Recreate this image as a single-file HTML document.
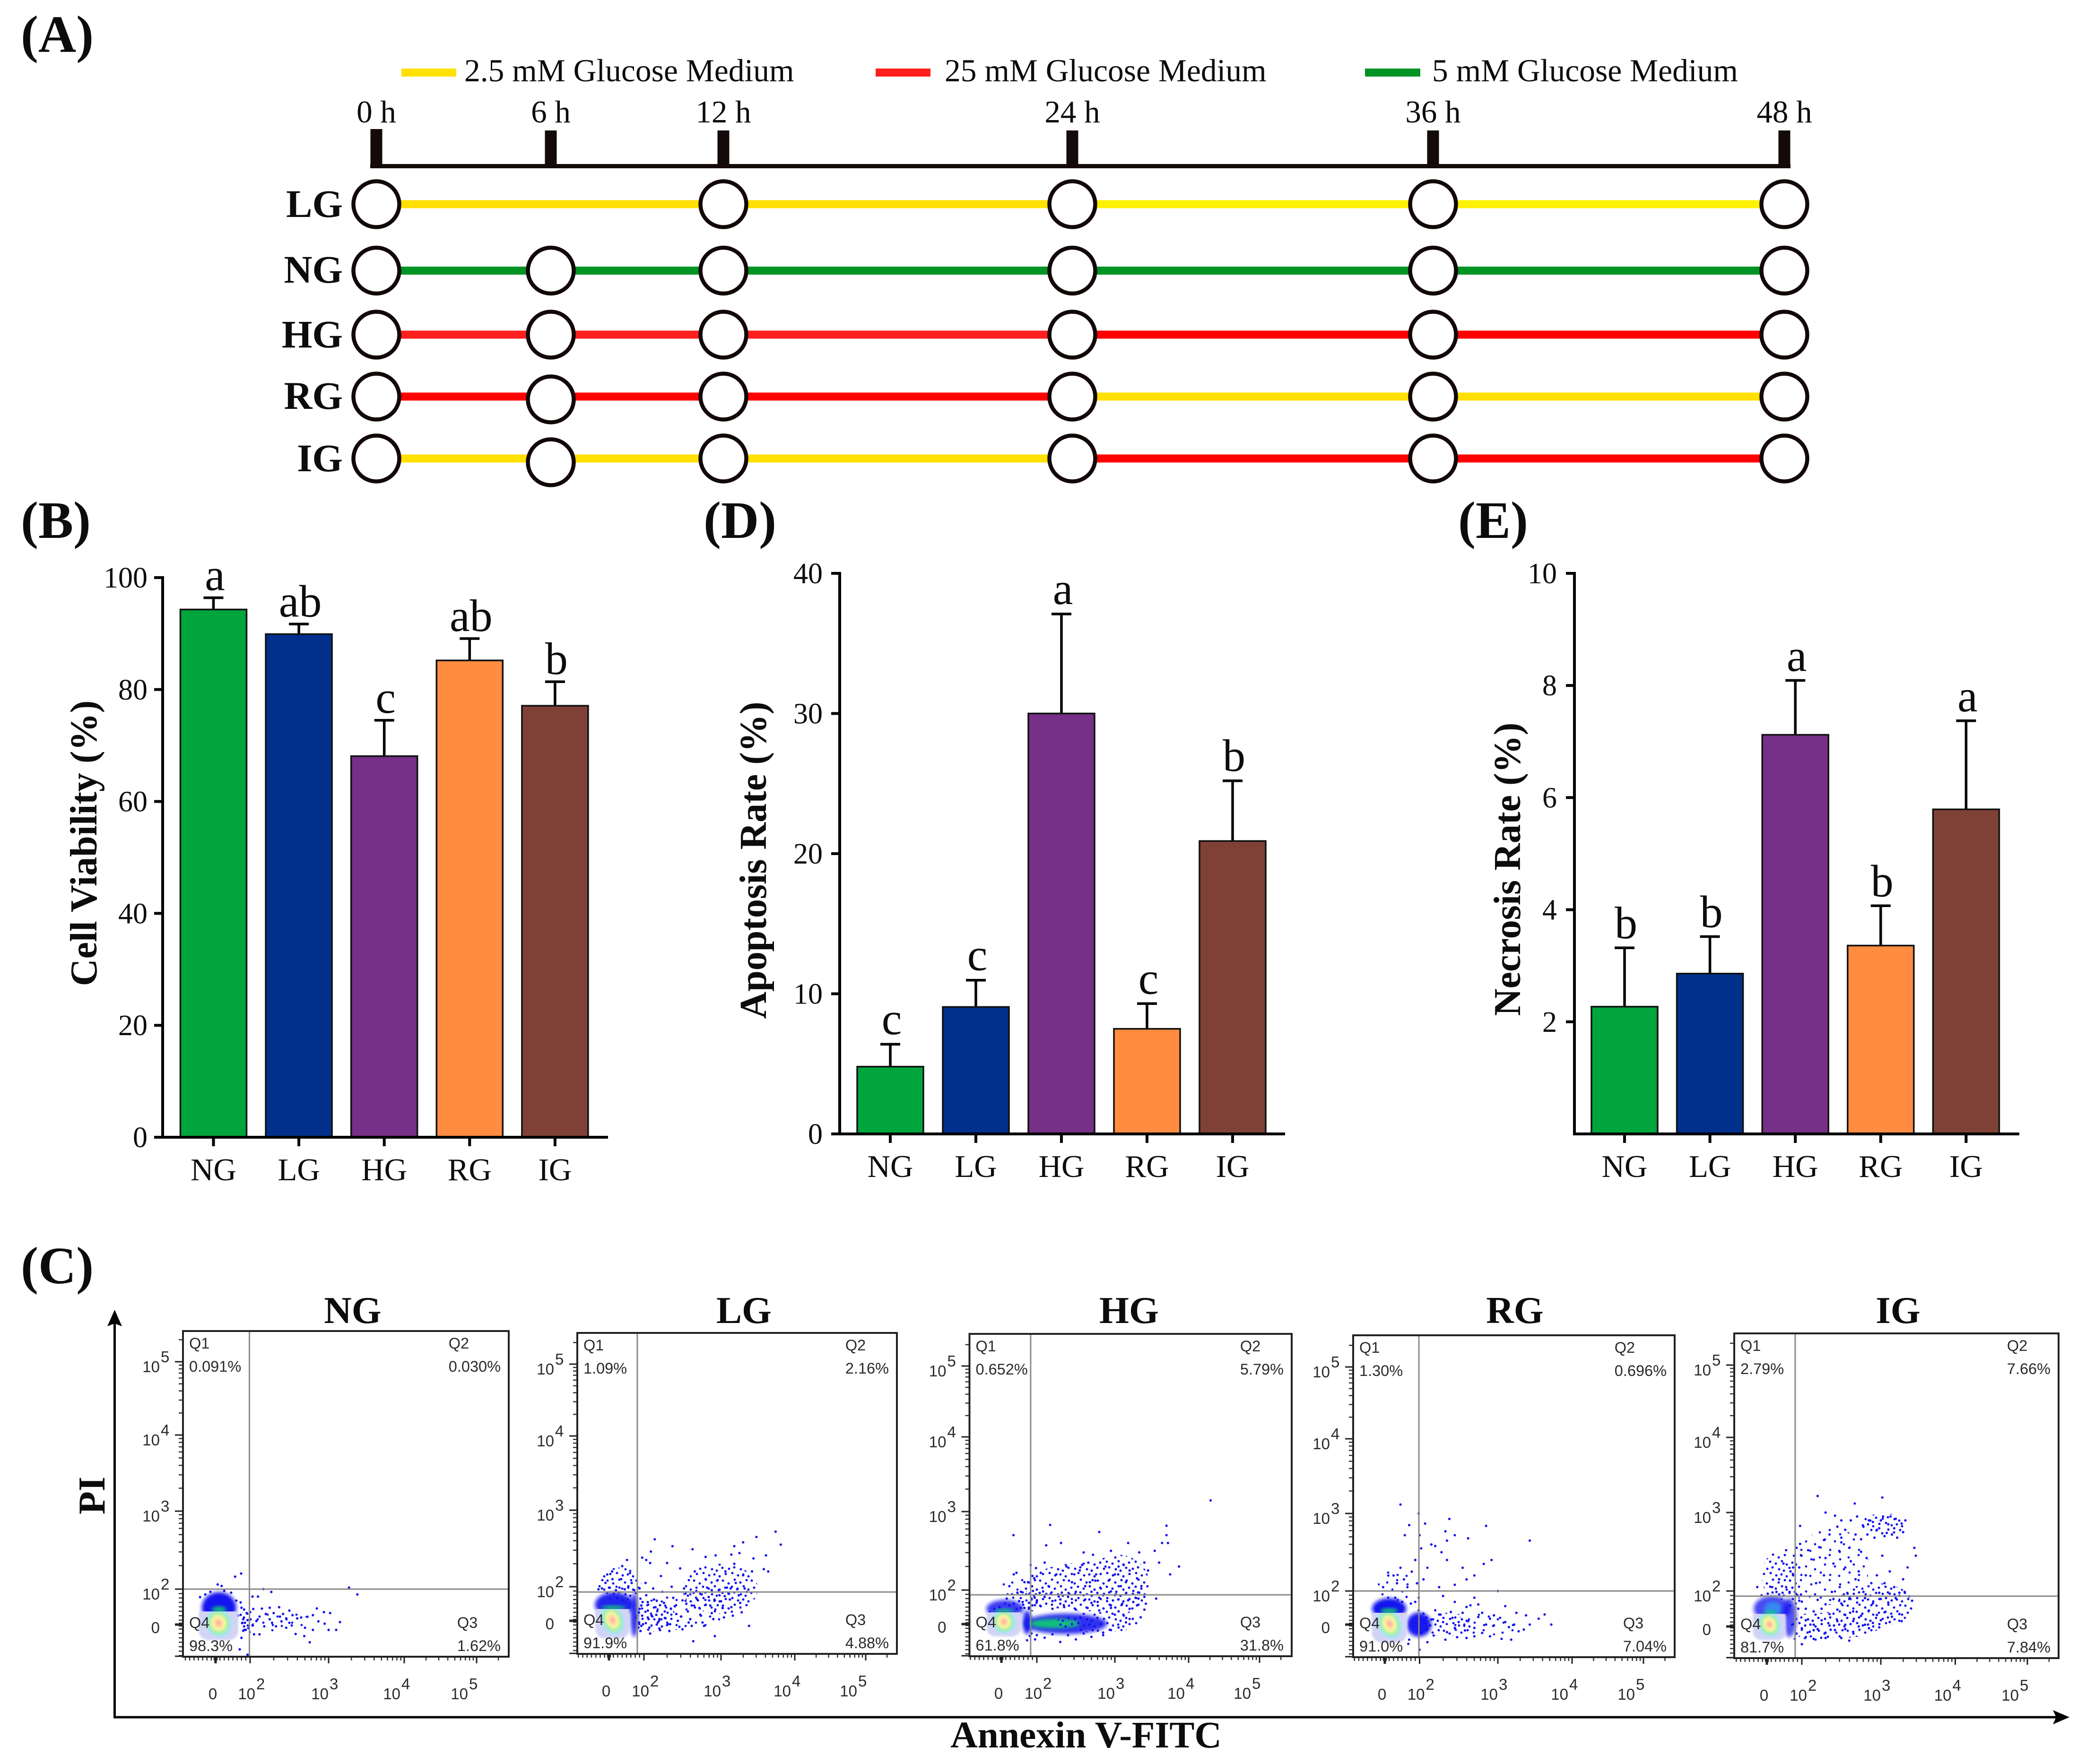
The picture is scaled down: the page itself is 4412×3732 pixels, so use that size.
<!DOCTYPE html>
<html lang="en">
<head>
<meta charset="utf-8">
<title>Glucose treatment timeline, viability, apoptosis, necrosis and flow cytometry</title>
<style>
html,body{margin:0;padding:0;background:#fff}
svg{display:block}
.serif{font-family:"Liberation Serif",serif;fill:#0c0c0c}
.bold{font-weight:700}
.sans{font-family:"Liberation Sans",sans-serif;fill:#2a2a2a}
</style>
</head>
<body>
<svg id="figure" xmlns="http://www.w3.org/2000/svg" width="4412" height="3732" viewBox="0 0 4412 3732">
  <defs>
    <radialGradient id="coreGrad">
      <stop offset="0" stop-color="#ffa6a6"/>
      <stop offset=".22" stop-color="#ffd8a0"/>
      <stop offset=".42" stop-color="#f5f5a0"/>
      <stop offset=".62" stop-color="#aef0a8"/>
      <stop offset=".82" stop-color="#a0e6f0"/>
      <stop offset="1" stop-color="#cfd6f6" stop-opacity=".2"/>
    </radialGradient>
    <filter id="soft" x="-30%" y="-30%" width="160%" height="160%"><feGaussianBlur stdDeviation="4"/></filter>
    <filter id="softer" x="-30%" y="-30%" width="160%" height="160%"><feGaussianBlur stdDeviation="2"/></filter>
    <pattern id="speckleSparse" patternUnits="userSpaceOnUse" width="61" height="53">
      <g fill="#1414ee">
        <circle cx="6" cy="9" r="2.4"/><circle cx="27" cy="4" r="2.4"/><circle cx="49" cy="13" r="2.4"/>
        <circle cx="17" cy="24" r="2.4"/><circle cx="38" cy="28" r="2.4"/><circle cx="57" cy="34" r="2.4"/>
        <circle cx="8" cy="41" r="2.4"/><circle cx="28" cy="46" r="2.4"/><circle cx="47" cy="48" r="2.4"/>
      </g>
    </pattern>
    <pattern id="speckleDense" patternUnits="userSpaceOnUse" width="61" height="53">
      <g fill="#1010ee">
        <circle cx="4" cy="5" r="2.5"/><circle cx="16" cy="11" r="2.5"/><circle cx="29" cy="3" r="2.5"/><circle cx="41" cy="9" r="2.5"/><circle cx="54" cy="4" r="2.5"/>
        <circle cx="9" cy="20" r="2.5"/><circle cx="23" cy="18" r="2.5"/><circle cx="35" cy="22" r="2.5"/><circle cx="48" cy="17" r="2.5"/><circle cx="58" cy="24" r="2.5"/>
        <circle cx="3" cy="31" r="2.5"/><circle cx="17" cy="33" r="2.5"/><circle cx="28" cy="30" r="2.5"/><circle cx="42" cy="34" r="2.5"/><circle cx="52" cy="37" r="2.5"/>
        <circle cx="10" cy="44" r="2.5"/><circle cx="24" cy="42" r="2.5"/><circle cx="36" cy="47" r="2.5"/><circle cx="47" cy="45" r="2.5"/><circle cx="58" cy="49" r="2.5"/>
      </g>
    </pattern>
  </defs>
  <rect width="4412" height="3732" fill="#fff"/>

  <text class="serif bold" x="44" y="110" font-size="111">(A)</text>
  <text class="serif bold" x="44" y="1138" font-size="111">(B)</text>
  <text class="serif bold" x="1488" y="1138" font-size="111">(D)</text>
  <text class="serif bold" x="3084" y="1138" font-size="111">(E)</text>
  <text class="serif bold" x="44" y="2715" font-size="111">(C)</text>

  <g>
    <rect x="849" y="145" width="116" height="17" fill="#ffe000"/>
    <text class="serif" x="982" y="172" font-size="67.5">2.5 mM Glucose Medium</text>
    <rect x="1852" y="145" width="116" height="17" fill="#ff1f1f"/>
    <text class="serif" x="1998" y="172" font-size="67.5">25 mM Glucose Medium</text>
    <rect x="2887" y="145" width="117" height="17" fill="#009425"/>
    <text class="serif" x="3029" y="172" font-size="67.5">5 mM Glucose Medium</text>
  </g>
  <g id="timeline"></g>

  <g id="chartB"></g>
  <g id="chartD"></g>
  <g id="chartE"></g>
  <text class="serif bold" transform="translate(204,1784) rotate(-90)" text-anchor="middle" font-size="80">Cell Viability (%)</text>
  <text class="serif bold" transform="translate(1620,1820) rotate(-90)" text-anchor="middle" font-size="80">Apoptosis Rate (%)</text>
  <text class="serif bold" transform="translate(3215,1839) rotate(-90)" text-anchor="middle" font-size="80">Necrosis Rate (%)</text>

  <g id="facs"></g>

  <g>
    <line x1="242.5" y1="2795" x2="242.5" y2="3635" stroke="#000" stroke-width="5"/>
    <polygon points="242.5,2771 227,2806 242.5,2800 258,2806" fill="#000"/>
    <line x1="240" y1="3633" x2="4355" y2="3633" stroke="#000" stroke-width="5"/>
    <polygon points="4377,3633 4342,3618 4349,3633 4342,3648" fill="#000"/>
    <text class="serif bold" transform="translate(221,3164) rotate(-90)" text-anchor="middle" font-size="80">PI</text>
    <text class="serif bold" x="2297" y="3697" text-anchor="middle" font-size="79.5">Annexin V-FITC</text>
  </g>
</svg>

<script>
/* ---------- bar chart data ---------- */
const categories = ['NG','LG','HG','RG','IG'];
const viabilityValues = [94.3,89.9,68.1,85.2,77.1];
const viabilityErrors = [2.1,1.8,6.4,3.9,4.3];
const viabilityLetters = ['a','ab','c','ab','b'];
const viabilityTicks = [0,20,40,60,80,100];
const apoptosisValues = [4.8,9.06,30,7.5,20.9];
const apoptosisErrors = [1.6,1.91,7.1,1.8,4.3];
const apoptosisLetters = ['c','c','a','c','b'];
const apoptosisTicks = [0,10,20,30,40];
const necrosisValues = [2.27,2.86,7.12,3.36,5.79];
const necrosisErrors = [1.05,0.66,0.97,0.71,1.58];
const necrosisLetters = ['b','b','a','b','a'];
const necrosisTicks = [2,4,6,8,10];

/* ---------- timeline data ---------- */
const timeLabels = ['0 h','6 h','12 h','24 h','36 h','48 h'];
const rowNames = ['LG','NG','HG','RG','IG'];
const rowSampled = [[0,2,3,4,5],[0,1,2,3,4,5],[0,1,2,3,4,5],[0,1,2,3,4,5],[0,1,2,3,4,5]];
const rowMediumEarly = ['#ffe000','#009425','#ff1f1f','#ff0000','#ffe000'];
const rowMediumLate = ['#fff200','#009425','#ff0000','#ffe000','#ff0000'];

/* ---------- flow cytometry data (axis units: 0, 2=10^2, 3=10^3 ...) ---------- */
const facsNames = ['NG','LG','HG','RG','IG'];
const exponentLabels = ['2','3','4','5'];
const q1Values = ['0.091%','1.09%','0.652%','1.30%','2.79%'];
const q2Values = ['0.030%','2.16%','5.79%','0.696%','7.66%'];
const q3Values = ['1.62%','4.88%','31.8%','7.04%','7.84%'];
const q4Values = ['98.3%','91.9%','61.8%','91.0%','81.7%'];
const gateX = [1.96,1.62,1.65,1.96,1.62];
const gateY = [2.0,1.69,1.72,2.0,1.71];
const coreX = [.17,.2,.14,.27,.15];
const coreY = [.09,.05,.15,.04,.12];
const coreSpanX = [1.15,.98,.98,1.02,.95];
const coreSpanY = [.98,1.1,.88,1.12,.9];
const coreCut = [.74,.69,.69,.7,.71];

/* density: centre x, centre y, span x, span y, strength, tone (0 blue, 1 green, 2 cyan, 3 sparse events, 4 dense events) */
const densityNG = [[.2,.95,1.0,.88,.97,0],[.2,.85,.42,.17,.9,1],[1.75,.2,.3,.75,1,4],[2.35,.2,.4,.6,1,3]];
const densityLG = [[.3,.95,1.1,.72,.9,0],[.25,.78,.7,.12,.9,1],[.6,1.7,1.25,.55,1,4],[1.45,.35,.22,1.3,.85,0],[1.95,.3,.45,.95,1,4],[2.5,.55,.55,1.1,1,3],[3.0,1.35,.5,.95,1,4]];
const densityHG = [[.2,.9,1.05,.52,.8,0],[.15,.78,.55,.11,.95,1],[1.45,.1,.25,.7,.9,0],[2.1,.02,.8,.6,.85,0],[2.05,.03,.5,.28,.9,1],[2.8,.1,.55,.6,1,4],[2.4,1.55,1.0,.8,1,4],[3.05,1.5,.42,.95,1,4],[1.5,1.4,.65,.65,1,4],[.7,1.75,.75,.45,1,3]];
const densityRG = [[.25,.95,.98,.62,.97,0],[.25,.82,.5,.15,.95,1],[1.7,0,.45,.72,.95,0],[2.3,0,.4,.7,1,4],[2.85,0,.45,.65,1,3],[.6,1.8,1,.5,1,3]];
const densityIG = [[.3,1.0,1.05,.72,.75,0],[.35,1.0,.5,.4,.55,2],[.2,.78,.4,.1,.95,1],[1.3,.5,.4,1.1,.7,0],[.7,2,1,.5,1,4],[1.95,0,.5,.8,1,4],[2.45,.1,.55,.75,1,4],[2.95,1.05,.5,1.05,1,4],[3.05,2.85,.3,.14,1,4],[2.25,2.0,.6,.8,1,3],[1.5,1.6,.4,.7,1,4]];

const pointsNG = [[2.17,2],[2.27,1.84],[3.27,2.02],[3.38,1.7],[1.13,2.16],[1.48,2.2],[.12,2.06],[.35,2.04],[2.03,1.58],[2.1,1.58],[2.85,.91],[2.94,.7],[3.02,.65],[3.15,.14],[3.1,-.3],[3,-.3],[2.76,-1],[2.8,-.3],[2.7,-.18],[2.69,-.65],[2.58,-.53],[2.5,.79],[2.54,.53],[2.6,.35],[2.65,.4],[2.73,.44],[2.8,.53],[2.87,.18],[2.95,.05],[2.46,-.18],[2.4,.18],[2.37,.98],[2.25,.95],[2.15,.9],[2.04,.88],[1.8,.65],[2,.7],[1.5,.95],[1.6,.3],[1.55,.1],[1.7,.1],[1.65,-.1],[1.6,-.35],[1.75,-.3],[1.85,.25],[1.9,-.2],[2.03,-.05],[2.08,.2],[2.12,.45],[2.2,.6],[2.25,.3],[2.28,.1],[2.33,-.1],[2.18,-.1],[2.12,-.55],[2.05,-.55],[2.38,.45],[2.42,.6],[2.3,.65],[2.46,.35],[2.5,.1],[2.53,-.05],[1.5,-.75],[1.85,-1.7],[1.4,-1.4],[1.3,.5],[1.45,.55],[-.9,1.55],[-.6,1.7],[-.3,1.85],[.5,1.9],[.9,1.8],[1.2,1.35],[1.45,1.25],[1.65,.85]];
const pointsLG = [[3.74,2.72],[3.81,2.55],[3.48,2.65],[3.3,2.58],[3.18,2.53],[3.25,2.44],[3.14,2.42],[2.14,2.62],[2.09,2.46],[2.37,2.53],[2.63,2.49],[2.8,2.39],[2.93,2.41],[3.44,2.37],[3.61,2.41],[3.58,2.23],[3.64,2.2],[1.03,2.35],[.76,2.27],[.18,2.2],[-.1,2.16],[1.9,2.38],[2.03,2.35],[2.08,2.31],[2.3,2.31],[2.47,2.24],[-.6,1.85],[-.4,1.9],[-.2,2.05],[0,1.95],[.2,2.1],[.4,1.8],[.6,1.95],[.7,2.1],[.9,1.85],[1.1,1.95],[1.3,2.05],[1.45,1.8],[1.2,2.18],[1.75,1.9],[1.8,1.3],[1.85,.9],[1.9,.3],[1.95,-.2],[1.8,-.6],[1.7,.5],[1.72,-.1],[2.02,2.05],[2.03,1.5],[2.05,1.1],[2.05,.6],[2.06,.1],[2.07,-.4],[2.08,-.75],[2.12,1.9],[2.13,1.25],[2.15,.8],[2.16,.35],[2.18,-.1],[2.2,-.45],[2.22,2.14],[2.24,1.7],[2.26,1.05],[2.27,.55],[2.28,.15],[2.3,-.25],[2.33,-.6],[2.36,2.0],[2.38,1.35],[2.4,.85],[2.42,.4],[2.44,0],[2.46,-.35],[2.5,-.5],[2.52,1.9],[2.54,1.6],[2.55,1.0],[2.57,.55],[2.6,.1],[2.62,-.3],[2.64,-1.2],[2.66,2.2],[2.68,1.75],[2.7,1.2],[2.72,.75],[2.74,.3],[2.76,-.1],[2.78,-.3],[2.8,2.1],[2.82,1.95],[2.84,1.4],[2.86,.9],[2.88,.45],[2.9,.1],[2.92,-.9],[2.95,2.08],[2.97,1.8],[2.98,1.5],[3,1.15],[3.02,.75],[3.04,.2],[3.06,2.2],[3.08,1.95],[3.1,1.6],[3.12,1.25],[3.14,.8],[3.16,.3],[3.18,2.3],[3.2,2.05],[3.22,1.85],[3.24,1.5],[3.26,1.05],[3.28,.5],[3.3,2.15],[3.32,1.9],[3.35,1.7],[3.38,-.3],[3.42,2.2],[2.35,.7],[2.5,1.2],[2.62,.9],[2.75,1.55],[2.88,1.8],[2.92,1.2],[3.05,1.45],[3.13,1.9],[1.62,.3],[1.68,-.4],[1.75,.7],[1.85,-.3],[1.92,1.1],[2.1,.3],[2.2,.1],[2.34,-.2],[2.48,.25],[2.58,-.1]];
const pointsHG = [[4.31,3.15],[3.7,2.82],[2.8,2.74],[2.17,2.83],[.68,2.7],[2.31,2.6],[2.12,2.57],[3.18,2.6],[3.7,2.7],[3.72,2.6],[3.64,2.6],[3.54,2.5],[3.87,2.3],[3.75,2.2],[3.56,1.5],[3.4,1.6],[3.6,2.35],[3.45,2.25],[3.4,2.35],[2.95,2.5],[2.6,2.48],[2.72,2.45],[3.33,2.48],[2.1,2.35],[1.95,2.28],[1.75,2.18],[.7,2.2],[.85,2.22],[.45,2.05],[1.3,2.1],[1.1,1.9],[.9,1.85],[.6,1.75],[.3,1.5],[1.5,2.1],[1.6,1.8],[1.7,1.5],[1.85,2.15],[1.95,1.75],[2.0,1.4],[2.05,2.22],[2.15,2.05],[2.25,2.2],[2.32,1.85],[2.38,2.3],[2.45,2.1],[2.5,1.9],[2.55,2.25],[2.62,2.05],[2.66,2.35],[2.7,1.9],[2.76,2.2],[2.82,2.02],[2.88,2.3],[2.92,2.12],[2.95,1.92],[3,2.2],[3.05,2.3],[3.08,2.05],[3.12,2.32],[3.15,2.1],[3.2,2.25],[3.25,1.95],[3.3,2.15],[3.33,1.85],[3.36,2.05],[3.28,1.55],[3.18,1.4],[3.1,1.2],[3.2,.9],[3.3,1.1],[3.35,.4],[3.42,1.2],[3.12,.5],[2.1,1.6],[2.2,1.35],[2.3,1.2],[2.4,1.6],[2.5,1.4],[2.6,1.7],[2.7,1.25],[2.8,1.55],[2.9,1.35],[3,1.7],[3.05,1.45],[2.05,1.05],[2.2,.9],[2.35,1.0],[2.5,.85],[2.65,.95],[2.8,.8],[2.95,.95],[3.05,.75],[1.55,1.25],[1.4,1.75],[1.2,1.3],[1,1.35],[.7,1.2],[.45,1.1],[.2,1.2],[-.1,1.0],[-.4,.9],[-.65,.7],[1.6,-.7],[1.9,-.9],[2.1,-.8],[2.3,-1.05],[2.5,-.9],[2.7,-.75],[2.85,-.65],[1.45,-.95],[3.2,.3],[3.05,-.2],[2.85,-.5],[2.75,2.12],[2.58,2.32],[2.42,1.75],[2.28,1.62],[2.18,1.8],[2.08,1.92],[1.65,2.32],[1.78,1.95],[1.88,1.55],[2.48,2.2],[2.68,2.1],[2.85,1.7],[3.02,1.9],[3.15,1.75],[3.25,1.3],[3.32,1.5],[3.4,.85],[2.95,1.1],[2.78,1.3],[2.62,1.45],[2.45,1.25],[2.3,1.45],[2.12,1.2],[1.98,1.25],[1.75,1.1],[1.55,.9],[1.3,.95],[1.1,.95],[.85,.9],[1.7,-.55],[2.0,-.65],[2.2,-.6],[2.4,-.65],[2.6,-.55],[3.0,.55],[3.15,.1],[2.95,-.35]];
const pointsRG = [[.9,3.12],[1.95,3.0],[2.38,2.93],[2.07,2.87],[2.33,2.77],[2.35,2.65],[1.4,2.85],[1.15,2.72],[2.0,2.72],[2.15,2.6],[2.2,2.58],[2.28,2.5],[2.45,2.72],[2.62,2.68],[2.85,2.84],[3.43,2.65],[2.02,2.55],[2.35,2.4],[2.55,2.3],[2.7,2.2],[2.82,2.35],[2.92,2.4],[3,2.0],[2.7,1.6],[.2,2.2],[-.1,2.05],[.5,2.2],[.7,2.1],[.9,2.3],[1.1,2.15],[1.3,2.05],[1.55,2.25],[1.75,2.4],[1.85,2.1],[2.05,2.15],[2.1,2.3],[2.25,2.05],[2.45,2.08],[2.6,2.15],[2.3,1.7],[2.45,1.35],[2.65,1.15],[2.75,1.2],[2.8,.7],[2.95,.55],[3.1,1.1],[3.25,.7],[3.38,.55],[3.55,.35],[3.63,.6],[3.72,.0],[3.43,.0],[3.28,-.4],[3.15,-.15],[3.03,.4],[3.1,.15],[3.22,0],[3.35,-.3],[3.18,-.9],[3.05,-.85],[2.95,-.05],[2.85,.0],[2.9,.35],[2.75,.45],[2.7,-.2],[2.62,.2],[2.55,.7],[2.58,-.35],[2.5,.15],[2.45,-.2],[2.42,.4],[2.35,-.45],[2.3,.15],[2.25,.6],[2.18,-.65],[2.15,.3],[2.1,-.2],[2.05,.65],[2.02,-.5],[1.95,.85],[2.2,.85],[2.4,.75],[2.6,1.05],[2.48,-.75],[2.7,-.7],[2.9,-.7],[2.8,-.5],[2.6,-.8],[2.33,-.9],[2.1,-1.05],[2.0,-1.5],[1.4,-.9],[1.35,-1.15],[1.5,1.25],[1.75,1.35],[1.95,1.6],[1.0,1.35],[1.25,1.65],[.6,1.6]];
const pointsIG = [[2.2,3.22],[2.67,3.12],[3.02,3.2],[1.9,2.83],[2.3,3.0],[2.5,2.9],[2.42,2.96],[2.45,2.82],[2.55,2.78],[2.62,2.9],[2.7,2.95],[2.78,2.82],[2.83,2.72],[2.9,2.88],[2.95,2.78],[3.0,2.9],[3.05,2.7],[3.1,2.85],[3.13,2.95],[3.18,2.8],[3.22,2.68],[3.28,2.86],[3.33,2.9],[3.3,2.75],[2.68,2.72],[2.75,2.66],[2.85,2.9],[2.92,2.68],[2.98,2.8],[3.03,2.95],[3.08,2.74],[3.15,2.72],[3.2,2.92],[2.5,2.68],[2.35,2.72],[2.28,2.65],[3.45,2.55],[3.47,2.45],[3.36,2.3],[1.9,2.6],[1.7,2.55],[1.55,2.45],[1.1,2.52],[.95,2.35],[1.5,2.2],[1.85,2.3],[1.98,2.45],[2.08,2.52],[2.15,2.4],[2.22,2.56],[2.3,2.42],[2.4,2.35],[2.48,2.5],[2.55,2.3],[2.62,2.38],[2.72,2.25],[2.82,2.42],[2.95,2.2],[3.02,2.45],[3.12,2.25],[2.05,2.2],[2.18,2.1],[2.28,2.2],[2.38,1.95],[2.48,2.05],[2.58,1.85],[2.68,2.15],[2.78,1.95],[2.88,2.1],[2.98,1.9],[3.05,2.1],[3.12,1.85],[3.18,2.05],[3.25,1.9],[3.3,2.15],[3.32,1.95],[3.38,1.7],[3.42,1.45],[3.2,1.6],[3.1,1.35],[3,1.55],[2.9,1.3],[2.8,1.6],[2.7,1.35],[2.6,1.55],[2.5,1.3],[2.4,1.55],[2.3,1.25],[2.2,1.5],[2.1,1.7],[2,1.4],[2.05,1.0],[2.15,.85],[2.25,1.0],[2.35,.7],[2.45,.95],[2.55,.65],[2.65,.85],[2.75,.6],[2.85,.9],[2.95,.65],[3.05,.8],[3.15,.55],[3.25,.7],[3.28,.3],[3.12,.25],[3.0,.35],[2.9,.2],[2.8,.1],[2.65,.3],[2.55,.1],[2.45,.3],[2.35,.05],[2.25,.35],[2.15,.1],[2.05,.35],[2.0,-.1],[2.1,-.3],[2.2,-.15],[2.3,-.35],[2.42,-.2],[2.55,-.15],[2.65,-.3],[2.72,.0],[2.85,-.1],[2.98,-.05],[2.5,-.65],[2.3,-.65],[2.15,-.7],[2.05,-.6],[2.0,-1.0],[1.7,-.4],[1.6,-.7],[1.45,.1],[2.6,-.8],[1.5,2.3],[1.3,1.95],[1.1,2.05],[.9,1.9],[.7,2.15],[.55,1.95],[.3,2.05],[.05,1.85],[-.3,1.75],[-.55,2.05],[1.35,2.25],[1.6,1.95],[1.75,1.75],[1.85,1.45],[1.95,1.8],[1.65,1.3],[1.8,1.0],[2.5,2.62],[2.6,2.55],[2.75,2.5]];

/* ---------- layout ---------- */
const NS = 'http://www.w3.org/2000/svg';
function mk(parent, tag, attrs, text) {
  const el = document.createElementNS(NS, tag);
  for (const k in attrs) el.setAttribute(k, attrs[k]);
  if (text !== undefined) el.textContent = text;
  parent.appendChild(el);
  return el;
}

/* timeline */
(function () {
  const g = document.getElementById('timeline');
  const timeX = [796,1165,1530,2268,3031,3774];
  const rowY = [432,572.5,708,839,970];
  const circleDrop = [0,0,0,6,8];
  const baseline = [459,598,735,865,997];
  const axis = mk(g, 'rect', {x:783, y:347, width:3004, height:9, fill:'#140a0a'});
  
  
  timeLabels.forEach((lab, i) => {
    const tick = mk(g, 'rect', {x:timeX[i]-12.5, y:i === 0 ? 273 : 276, width:25, height:80, fill:'#140a0a'});
    
    
    const t = mk(g, 'text', {x:timeX[i], y:259, 'text-anchor':'middle', 'font-size':67, class:'serif'}, lab);
    
    
  });
  rowNames.forEach((name, r) => {
    const label = mk(g, 'text', {x:725, y:baseline[r], 'text-anchor':'end', 'font-size':83, class:'serif bold'}, name);
    
    
    const seq = rowSampled[r];
    for (let s = 0; s < seq.length - 1; s++) {
      const seg = mk(g, 'rect', {x:timeX[seq[s]], y:rowY[r]-8.5, width:timeX[seq[s+1]]-timeX[seq[s]], height:17, fill:seq[s] < 3 ? rowMediumEarly[r] : rowMediumLate[r]});
      
      
    }
    seq.forEach(idx => {
      const c = mk(g, 'circle', {cx:timeX[idx], cy:rowY[r] + (idx === 1 ? circleDrop[r] : 0), r:48.5, fill:'#fff', stroke:'#120808', 'stroke-width':8.5});
      
      
    });
  });
})();

/* bar charts */
const barColors = ['#00a53b','#00308c','#763087','#ff8c40','#7f4136'];
function barChart(id, o) {
  const g = document.getElementById(id);
  const yS = v => o.y0 - v / o.yMax * (o.y0 - o.yTop);
  const xS = i => o.c0 + i * o.step;
  o.values.forEach((v, i) => {
    const top = yS(v), errTop = yS(v + o.errors[i]);
    const w = mk(g, 'line', {x1:xS(i), x2:xS(i), y1:top, y2:errTop, stroke:'#000', 'stroke-width':5.5});
    
    
    const cap = mk(g, 'line', {x1:xS(i)-21, x2:xS(i)+21, y1:errTop, y2:errTop, stroke:'#000', 'stroke-width':5.5});
    
    
    const bar = mk(g, 'rect', {x:xS(i)-70, y:top, width:140, height:o.y0-top, fill:barColors[i], stroke:'#111', 'stroke-width':3.5});
    
    
    const letter = mk(g, 'text', {x:xS(i)+3, y:errTop-o.letterGap, 'text-anchor':'middle', 'font-size':96, class:'serif'}, o.letters[i]);
    
    
    const tick = mk(g, 'line', {x1:xS(i), x2:xS(i), y1:o.y0, y2:o.y0+19, stroke:'#000', 'stroke-width':6});
    
    
    const lab = mk(g, 'text', {x:xS(i), y:o.labelY, 'text-anchor':'middle', 'font-size':67, class:'serif'}, categories[i]);
    
    
  });
  o.ticks.forEach(v => {
    const tick = mk(g, 'line', {x1:o.axisX-18, x2:o.axisX, y1:yS(v), y2:yS(v), stroke:'#000', 'stroke-width':6});
    
    
    const lab = mk(g, 'text', {x:o.axisX-o.labelGap, y:yS(v)+21, 'text-anchor':'end', 'font-size':62, class:'serif'}, String(v));
    
    
  });
  const ya = mk(g, 'line', {x1:o.axisX, x2:o.axisX, y1:o.yTop-3, y2:o.y0+3, stroke:'#000', 'stroke-width':6});
  
  
  const xa = mk(g, 'line', {x1:o.axisX-(o.ticks[0] === 0 ? 18 : 3), x2:o.xEnd, y1:o.y0, y2:o.y0, stroke:'#000', 'stroke-width':6});
  
  
}
barChart('chartB', {values:viabilityValues, errors:viabilityErrors, letters:viabilityLetters, ticks:viabilityTicks, yMax:100, y0:2406, yTop:1222, axisX:344, xEnd:1286, c0:451.5, step:180.6, labelY:2497, labelGap:32, letterGap:16});
barChart('chartD', {values:apoptosisValues, errors:apoptosisErrors, letters:apoptosisLetters, ticks:apoptosisTicks, yMax:40, y0:2399, yTop:1213, axisX:1776, xEnd:2718, c0:1883, step:181, labelY:2490, labelGap:36, letterGap:21});
barChart('chartE', {values:necrosisValues, errors:necrosisErrors, letters:necrosisLetters, ticks:necrosisTicks, yMax:10, y0:2399, yTop:1213, axisX:3330, xEnd:4271, c0:3436, step:180.6, labelY:2490, labelGap:37, letterGap:20});

/* flow cytometry */
const tones = ['#0c0cee','#10d070','#28c0f0','url(#speckleSparse)','url(#speckleDense)'];
const axisBreaks = [0,2,3,4,5];
const minorLinear = [-2,-1.75,-1.5,-1.25,-1,-.75,-.5,-.25,-.08,.08,.25,.5,.75,1,1.25,1.5,1.75];
const minorLog = [.301,.477,.602,.699,.778,.845,.903,.954];
const allDensity = [densityNG,densityLG,densityHG,densityRG,densityIG];
const allPoints = [pointsNG,pointsLG,pointsHG,pointsRG,pointsIG];
const frames = [[387,1076,2816,3505],[1221,1897,2820,3499],[2050.5,2732,2822,3504],[2862,3542,2825,3506],[3668,4354,2821,3508]];
const xTickPx = [[456,529,695,855,1008],[1288,1362,1525,1681,1831],[2118,2193,2358,2514,2664],[2929,3002.5,3168,3325,3476],[3737,3811,3978,4135.5,4288]];
const yTickPx = [[3437,3362,3197,3036,2881],[3429,3357,3195,3038,2886],[3436,3364,3198,3040,2890],[3437,3366,3202,3044,2892],[3441,3366,3200,3041,2888]];
const titleX = [746,1573.5,2388,3204,4014.5];

function piecewise(v, t) {
  let i = axisBreaks.length - 2;
  for (let k = 0; k < axisBreaks.length - 1; k++) {
    if (v <= axisBreaks[k+1]) { i = k; break; }
  }
  return t[i] + (v - axisBreaks[i]) * (t[i+1] - t[i]) / (axisBreaks[i+1] - axisBreaks[i]);
}

facsNames.forEach((name, p) => {
  const root = document.getElementById('facs');
  const g = mk(root, 'g', {});
  
  
  const [L, R, T, B] = frames[p];
  const xS = v => piecewise(v, xTickPx[p]);
  const yS = v => piecewise(v, yTickPx[p]);

  const clipId = 'frameClip' + p, cutId = 'cutClip' + p;
  const cp = mk(g, 'clipPath', {id:clipId});
  mk(cp, 'rect', {x:L, y:T, width:R-L, height:B-T});
  const cp2 = mk(g, 'clipPath', {id:cutId});
  mk(cp2, 'rect', {x:L, y:yS(coreCut[p]), width:R-L, height:B-yS(coreCut[p])});

  const title = mk(g, 'text', {x:titleX[p], y:2799, 'text-anchor':'middle', 'font-size':81, class:'serif bold'}, name);
  
  

  const inner = mk(g, 'g', {'clip-path':'url(#' + clipId + ')'});
  
  

  allDensity[p].forEach(d => {
    const x1 = xS(d[0]-d[2]), x2 = xS(d[0]+d[2]), y1 = yS(d[1]-d[3]), y2 = yS(d[1]+d[3]);
    const attrs = {cx:(x1+x2)/2, cy:(y1+y2)/2, rx:Math.abs(x2-x1)/2, ry:Math.abs(y2-y1)/2, fill:tones[d[5]], opacity:d[4]};
    if (d[5] < 3) attrs.filter = 'url(#soft)';
    const e = mk(inner, 'ellipse', attrs);
    
    
  });
  allPoints[p].forEach(pt => {
    const c = mk(inner, 'circle', {cx:xS(pt[0]), cy:yS(pt[1]), r:2.6, fill:'#1212f0'});
    
    
  });

  const cx1 = xS(coreX[p]-coreSpanX[p]), cx2 = xS(coreX[p]+coreSpanX[p]), cy1 = yS(coreY[p]-coreSpanY[p]), cy2 = yS(coreY[p]+coreSpanY[p]);
  const ccx = (cx1+cx2)/2, ccy = (cy1+cy2)/2, crx = (cx2-cx1)/2, cry = (cy1-cy2)/2;
  const coreGroup = mk(inner, 'g', {'clip-path':'url(#' + cutId + ')'});
  
  
  const halo = mk(coreGroup, 'rect', {x:ccx-crx, y:ccy-cry, width:crx*2, height:cry*2, rx:crx*.55, ry:cry*.55, fill:'#d2d4f6', filter:'url(#softer)'});
  
  
  const core = mk(coreGroup, 'ellipse', {cx:ccx, cy:ccy, rx:crx*.72, ry:cry*.9, fill:'url(#coreGrad)', transform:'rotate(-22 ' + ccx + ' ' + ccy + ')'});
  
  

  const gv = mk(g, 'line', {x1:xS(gateX[p]), x2:xS(gateX[p]), y1:T, y2:B, stroke:'#8a8a8a', 'stroke-width':3});
  
  
  const gh = mk(g, 'line', {x1:L, x2:R, y1:yS(gateY[p]), y2:yS(gateY[p]), stroke:'#8a8a8a', 'stroke-width':3});
  
  

  /* ticks */
  const yMinor = [], xMinor = [];
  minorLinear.forEach(v => { yMinor.push(v); xMinor.push(v); });
  [2,3,4].forEach(d => minorLog.forEach(m => { yMinor.push(d+m); xMinor.push(d+m); }));
  [.301,.477].forEach(m => { yMinor.push(5+m); xMinor.push(5+m); });
  yMinor.forEach(v => {
    const y = yS(v);
    if (y < T || y > B) return;
    const t = mk(g, 'line', {x1:L-9, x2:L, y1:y, y2:y, stroke:'#333', 'stroke-width':2.5});
    
    
  });
  xMinor.forEach(v => {
    const x = xS(v);
    if (x < L || x > R) return;
    const t = mk(g, 'line', {x1:x, x2:x, y1:B, y2:B+8, stroke:'#333', 'stroke-width':2.5});
    
    
  });
  axisBreaks.forEach(v => {
    const ty = mk(g, 'line', {x1:L-17, x2:L, y1:yS(v), y2:yS(v), stroke:'#222', 'stroke-width':v === 0 ? 5 : 3});
    
    
    const tx = mk(g, 'line', {x1:xS(v), x2:xS(v), y1:B, y2:B+14, stroke:'#222', 'stroke-width':v === 0 ? 5 : 3});
    
    
  });
  const bt = mk(g, 'line', {x1:L-17, x2:L, y1:B-1, y2:B-1, stroke:'#222', 'stroke-width':3});
  
  

  /* tick labels */
  const zeroY = mk(g, 'text', {x:L-49, y:yS(0)+18, 'text-anchor':'end', 'font-size':33, class:'sans'}, '0');
  
  
  const zeroX = mk(g, 'text', {x:xS(0)-6, y:B+90, 'text-anchor':'middle', 'font-size':33, class:'sans'}, '0');
  
  
  const xOffsets = [11,0,-8,-18];
  exponentLabels.forEach((exp, i) => {
    const v = axisBreaks[i+1];
    const yb = mk(g, 'text', {x:L-49, y:yS(v)+22, 'text-anchor':'end', 'font-size':33, class:'sans'}, '10');
    
    
    const ye = mk(g, 'text', {x:L-47, y:yS(v)+1, 'font-size':33, class:'sans'}, exp);
    
    
    const xb = mk(g, 'text', {x:xS(v)+xOffsets[i], y:B+90, 'text-anchor':'end', 'font-size':33, class:'sans'}, '10');
    
    
    const xe = mk(g, 'text', {x:xS(v)+xOffsets[i]+2, y:B+69, 'font-size':33, class:'sans'}, exp);
    
    
  });

  /* quadrant text */
  const pctWidth = s => 32.5 * ((s.length - 2) * .556 + .278 + .889);
  const q1n = mk(g, 'text', {x:L+13, y:T+37, 'font-size':32.5, class:'sans'}, 'Q1');
  
  
  const q1v = mk(g, 'text', {x:L+13, y:T+86, 'font-size':32.5, class:'sans'}, q1Values[p]);
  
  
  const q2n = mk(g, 'text', {x:R-17-pctWidth(q2Values[p]), y:T+37, 'font-size':32.5, class:'sans'}, 'Q2');
  
  
  const q2v = mk(g, 'text', {x:R-17, y:T+86, 'text-anchor':'end', 'font-size':32.5, class:'sans'}, q2Values[p]);
  
  
  const q3n = mk(g, 'text', {x:R-17-pctWidth(q3Values[p]), y:B-61, 'font-size':32.5, class:'sans'}, 'Q3');
  
  
  const q3v = mk(g, 'text', {x:R-17, y:B-12, 'text-anchor':'end', 'font-size':32.5, class:'sans'}, q3Values[p]);
  
  
  const q4n = mk(g, 'text', {x:L+13, y:B-61, 'font-size':32.5, class:'sans'}, 'Q4');
  
  
  const q4v = mk(g, 'text', {x:L+13, y:B-12, 'font-size':32.5, class:'sans'}, q4Values[p]);
  
  

  const frame = mk(g, 'rect', {x:L, y:T, width:R-L, height:B-T, fill:'none', stroke:'#222', 'stroke-width':4});
  
  
});
</script>
</body>
</html>
